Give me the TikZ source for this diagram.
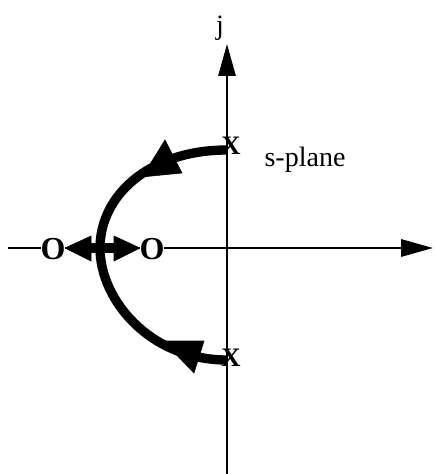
\documentclass[tikz,border=0pt]{standalone}
\usepackage{fontspec}
\setmainfont{Liberation Serif}
\usetikzlibrary{arrows.meta}
\begin{document}
\begin{tikzpicture}[x=0.75pt,y=-0.75pt,
  axis/.style={line width=1.5pt,-{Triangle[length=24pt,width=13pt]}},
  locus/.style={line width=7pt},
  head/.style={fill=black},
  xmark/.style={font=\fontsize{20}{20}\selectfont\bfseries,inner sep=0pt},
  omark/.style={font=\fontsize{24}{24}\selectfont\bfseries,inner sep=0pt,fill=white},
  lbl/.style={font=\fontsize{21}{21}\selectfont,inner sep=0pt}]
\useasboundingbox (0,0) rectangle (434,474);
% axes
\coordinate (hx0) at (8,248);
\coordinate (hx1) at (433,248);
\coordinate (vy0) at (227,474);
\coordinate (vy1) at (227,44);
\draw[axis] (hx0) -- (hx1);
\draw[axis] (vy0) -- (vy1);
% root locus
\coordinate (p1) at (227,150);
\coordinate (b) at (100,248);
\coordinate (p2) at (227,360);
\draw[locus] (p1) .. controls (150,150) and (100,195) .. (b)
  .. controls (100,300) and (150,360) .. (p2);
\draw[head] (142,177) -- (165,140) -- (182,173) -- cycle;
\draw[head] (163,341) -- (204,341) -- (194,373) -- cycle;
% breakaway
\coordinate (bl) at (90,248);
\coordinate (br) at (115,248);
\draw[locus,line width=8pt] (bl) -- (br);
\draw[head] (65,248) -- (91,236) -- (91,261) -- cycle;
\draw[head] (140,248) -- (114,236) -- (114,261) -- cycle;
% markers and labels
\node[xmark] (x1) at (231,146) {X};
\node[xmark] (x2) at (231,358) {X};
\node[omark] (o1) at (53,249) {O};
\node[omark] (o2) at (152,249) {O};
\node[lbl] (j) at (220,28) {j};
\node[lbl] (sp) at (305,160) {s-plane};
\end{tikzpicture}
\end{document}
